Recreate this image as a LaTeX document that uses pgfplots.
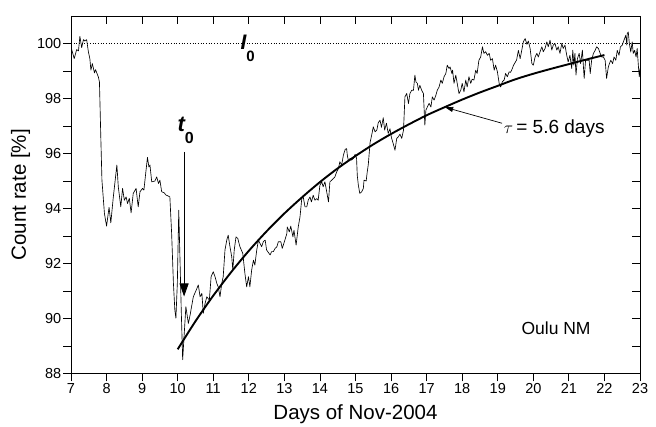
\documentclass[border=0pt]{standalone}
\usepackage{fontspec}
\setmainfont{Liberation Sans}
\usepackage{pgfplots}
\pgfplotsset{compat=1.18}
\usetikzlibrary{arrows.meta}

% Oulu neutron monitor count rate, Nov 2004 (percent of pre-event level)
\pgfplotstableread{
d v
7.02 99.78
7.09 99.45
7.16 99.78
7.21 99.73
7.25 100.26
7.30 99.85
7.35 100.14
7.39 100.09
7.44 100.14
7.49 99.69
7.53 99.45
7.56 99.03
7.60 99.27
7.66 98.93
7.69 99.05
7.74 98.88
7.77 98.78
7.80 98.60
7.84 96.50
7.87 95.03
7.94 93.82
8.00 93.36
8.07 94.04
8.12 93.48
8.19 94.42
8.29 95.58
8.33 94.79
8.40 94.06
8.45 94.73
8.50 94.30
8.55 94.42
8.59 94.18
8.64 94.37
8.69 93.84
8.75 94.55
8.83 94.73
8.89 94.06
8.94 94.61
9.01 94.73
9.05 94.67
9.11 95.39
9.15 95.86
9.19 95.51
9.22 95.58
9.27 94.97
9.36 95.00
9.41 95.15
9.46 94.91
9.50 95.03
9.55 94.61
9.62 94.57
9.67 94.49
9.74 94.45
9.78 94.42
9.83 93.09
9.88 91.28
9.92 90.31
9.95 90.01
9.99 91.28
10.03 93.94
10.07 91.88
10.10 90.31
10.14 88.50
10.23 90.43
10.30 89.82
10.35 90.13
10.39 90.43
10.44 90.79
10.52 91.03
10.58 91.22
10.63 90.79
10.68 90.91
10.72 90.19
10.77 90.55
10.82 90.79
10.89 90.67
10.94 91.52
11.00 91.70
11.05 91.52
11.10 91.28
11.14 91.15
11.19 90.79
11.24 91.28
11.28 91.52
11.33 92.49
11.38 92.85
11.42 93.03
11.47 92.61
11.52 92.24
11.55 91.76
11.59 92.49
11.64 92.97
11.69 92.91
11.75 92.61
11.83 92.37
11.89 91.64
11.94 91.15
11.99 91.52
12.03 91.15
12.08 91.76
12.13 92.12
12.17 91.94
12.22 92.46
12.27 92.85
12.36 92.61
12.41 92.80
12.46 92.85
12.50 92.49
12.60 92.31
12.64 92.43
12.69 92.43
12.74 92.55
12.79 92.61
12.83 92.79
12.90 92.79
12.94 92.55
13.00 92.79
13.07 93.09
13.08 93.33
13.14 93.15
13.18 93.36
13.24 92.97
13.27 93.21
13.33 92.67
13.39 93.33
13.44 93.70
13.49 94.37
13.53 94.42
13.58 94.06
13.63 94.06
13.67 94.30
13.72 94.42
13.76 94.24
13.81 94.48
13.86 94.30
13.91 94.36
13.95 94.30
14.00 94.85
14.05 94.97
14.09 94.79
14.14 94.97
14.19 94.61
14.24 94.24
14.28 94.97
14.33 95.03
14.38 95.09
14.42 95.15
14.47 95.33
14.52 95.45
14.56 95.70
14.61 95.58
14.66 95.94
14.71 96.15
14.75 96.18
14.77 95.94
14.80 95.73
14.85 95.82
14.89 95.76
14.94 95.82
14.99 95.97
15.03 95.82
15.05 95.20
15.08 94.85
15.12 94.55
15.17 94.60
15.22 94.73
15.24 95.03
15.30 95.00
15.33 95.33
15.36 95.60
15.41 96.40
15.46 96.70
15.50 96.97
15.55 96.79
15.60 96.85
15.64 97.12
15.69 97.21
15.73 96.95
15.78 97.30
15.82 96.85
15.87 97.10
15.92 96.73
15.97 96.90
16.01 96.58
16.06 96.36
16.11 96.12
16.16 96.55
16.20 96.60
16.25 96.70
16.30 96.55
16.35 96.85
16.39 98.06
16.44 98.18
16.49 97.82
16.53 98.18
16.58 98.30
16.63 98.30
16.67 98.85
16.70 98.60
16.74 98.55
16.77 98.30
16.81 98.48
16.86 98.30
16.91 98.18
16.95 97.03
16.98 97.58
17.02 97.69
17.07 97.82
17.12 97.69
17.16 98.06
17.21 97.94
17.26 98.12
17.30 98.30
17.35 98.42
17.40 98.67
17.44 98.55
17.49 98.79
17.54 98.91
17.58 99.21
17.63 99.09
17.66 99.15
17.71 98.91
17.73 99.03
17.77 98.55
17.82 98.85
17.86 98.55
17.91 98.18
17.96 98.30
18.00 98.55
18.05 98.24
18.10 98.67
18.14 98.42
18.19 98.79
18.24 98.55
18.28 98.70
18.33 98.67
18.38 99.03
18.42 98.91
18.47 99.39
18.52 99.51
18.57 99.88
18.61 99.64
18.66 99.70
18.71 99.57
18.76 99.64
18.80 99.39
18.85 99.45
18.90 99.03
18.94 99.21
18.99 98.97
19.04 98.55
19.08 98.42
19.13 98.61
19.18 98.67
19.22 98.91
19.27 98.79
19.32 98.97
19.36 98.95
19.41 99.09
19.44 99.20
19.53 99.40
19.58 99.75
19.63 99.45
19.72 100.06
19.77 100.18
19.82 99.97
19.86 100.09
19.91 99.82
19.96 99.27
20.00 99.21
20.05 99.51
20.10 99.64
20.14 99.51
20.19 99.70
20.24 99.88
20.28 99.70
20.33 99.82
20.38 100.06
20.42 99.88
20.47 100.12
20.52 99.76
20.56 99.94
20.61 100.00
20.66 99.76
20.70 99.88
20.75 99.64
20.80 100.00
20.84 99.82
20.89 99.94
20.94 99.57
20.98 99.33
21.03 99.57
21.08 99.09
21.11 99.76
21.14 99.21
21.17 99.64
21.20 98.85
21.24 99.45
21.29 99.64
21.33 99.27
21.38 99.76
21.43 98.73
21.47 99.39
21.52 99.39
21.57 99.39
21.60 98.91
21.64 99.39
21.69 99.64
21.74 99.75
21.78 99.88
21.83 99.82
21.88 99.64
21.92 99.51
21.97 99.51
22.02 99.39
22.06 98.73
22.11 99.15
22.14 99.27
22.18 99.39
22.23 99.27
22.27 99.51
22.32 99.39
22.36 99.75
22.41 99.57
22.45 99.88
22.50 99.94
22.55 100.12
22.60 100.30
22.63 99.94
22.64 100.36
22.67 100.42
22.70 100.00
22.74 99.69
22.78 100.06
22.81 99.64
22.85 99.75
22.89 99.51
22.92 99.82
22.96 99.09
22.98 98.79
23.00 99.09
}\countrate

% recovery fit, tau = 5.6 days
\pgfplotstableread{
d v
10.0 88.88
10.5 89.90
11.0 90.83
11.5 91.68
12.0 92.46
12.5 93.17
13.0 93.82
13.5 94.41
14.0 94.96
14.5 95.46
15.0 95.91
15.5 96.33
16.0 96.71
16.5 97.06
17.0 97.39
17.5 97.68
18.0 97.96
18.5 98.22
19.0 98.46
19.5 98.70
20.0 98.90
20.5 99.08
21.0 99.25
21.5 99.42
22.0 99.58
}\recovery

\begin{document}
\begin{tikzpicture}
\pgfplotsset{
  frame/.style={
    at={(0,0)}, anchor=south west,
    scale only axis, width=569pt, height=357.5pt,
    xmin=7, xmax=23, ymin=88, ymax=101,
    xtick={7,...,23},
    ytick={88,90,...,100},
    minor ytick={89,91,...,99},
    major tick length=8pt, minor tick length=8pt,
    every tick/.style={black, line width=0.8pt},
    axis line style={line width=0.9pt},
    /pgf/number format/assume math mode=true,
    tick label style={font=\fontsize{14.5}{16}\selectfont},
  }
}
% top and right ticks point inwards
\begin{axis}[frame, tick align=inside, xtick pos=right, ytick pos=right,
  xticklabels={}, yticklabels={}]
\end{axis}
\begin{axis}[frame, tick align=outside, xtick pos=left, ytick pos=left,
  xticklabel style={inner sep=2pt},
  yticklabel style={inner sep=1.5pt},
  xlabel={Days of Nov-2004},
  ylabel={Count rate [\%]},
  label style={font=\fontsize{20.5}{23}\selectfont},
  xlabel style={yshift=-5pt},
  ylabel style={yshift=2pt},
  clip=false]
  % reference level I0
  \addplot[black, dotted, line width=0.7pt] coordinates {(7,100) (23,100)};
  \addplot[black, line width=0.65pt, line join=round] table[x=d, y=v] {\countrate};
  \addplot[black, line width=1.9pt, smooth] table[x=d, y=v] {\recovery};

  \node[font=\fontsize{21}{24}\selectfont\bfseries\itshape] at (axis cs:11.85,100.05) {I};
  \node[font=\fontsize{15}{18}\selectfont\bfseries] at (axis cs:12.05,99.55) {0};
  \node[font=\fontsize{22}{24}\selectfont\bfseries\itshape] at (axis cs:10.1,97.05) {t};
  \node[font=\fontsize{16}{18}\selectfont\bfseries] at (axis cs:10.33,96.55) {0};
  \draw[line width=0.9pt, -{Triangle[width=9pt,length=13pt]}] (axis cs:10.18,96.06) -- (axis cs:10.18,90.8);

  \draw[line width=0.7pt, -{Triangle[width=5pt,length=8pt]}] (axis cs:19.12,97.10) -- (axis cs:17.52,97.68);
  \node[anchor=west, font=\fontsize{19}{22}\selectfont, inner sep=1pt] at (axis cs:19.14,96.92) {$\tau$\,= 5.6 days};

  \node[font=\fontsize{17.5}{20}\selectfont] at (axis cs:20.64,89.64) {Oulu NM};
\end{axis}
\pgfresetboundingbox
\path[use as bounding box] (-71pt,-53.5pt) rectangle (585pt,373.5pt);
\end{tikzpicture}
\end{document}
